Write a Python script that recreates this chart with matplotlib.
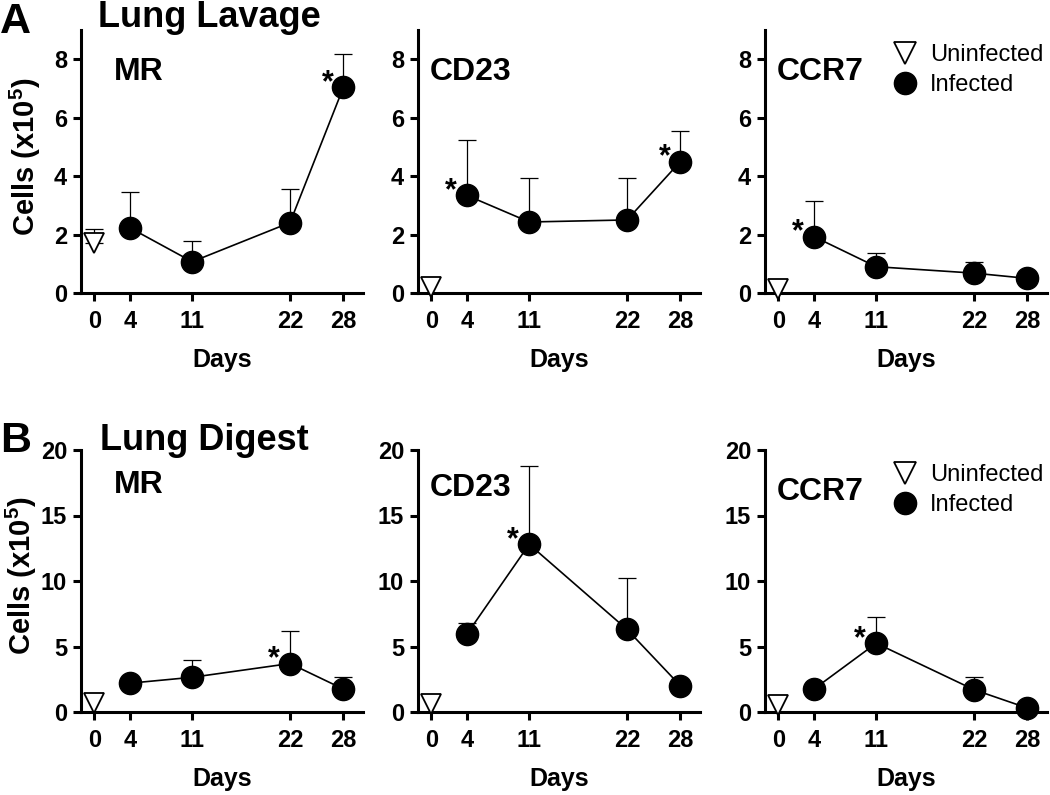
import numpy as np
import matplotlib.pyplot as plt
from matplotlib.lines import Line2D

plt.rcParams['font.family'] = ['Liberation Sans', 'DejaVu Sans']
plt.rcParams['font.weight'] = 'bold'
plt.rcParams['axes.labelweight'] = 'bold'
plt.rcParams['mathtext.fontset'] = 'custom'
plt.rcParams['mathtext.rm'] = 'Liberation Sans'
plt.rcParams['mathtext.bf'] = 'Liberation Sans:bold'

days = [4, 11, 22, 28]
day_ticks = [0, 4, 11, 22, 28]
markers = ['MR', 'CD23', 'CCR7']

# Lung lavage, cells x10^5 (mean, upper SD)
lav_vals = [[2.23, 1.07, 2.41, 7.04],
            [3.34, 2.43, 2.50, 4.50],
            [1.93, 0.90, 0.68, 0.50]]
lav_err = [[1.24, 0.72, 1.16, 1.14],
           [1.88, 1.52, 1.42, 1.04],
           [1.23, 0.48, 0.37, 0.0]]
lav_uninf = [1.7, 0.2, 0.15]
lav_uninf_err = [0.5, 0.0, 0.0]
lav_stars = [[28], [4, 28], [4]]

# Lung digest
dig_vals = [[2.20, 2.65, 3.70, 1.75],
            [5.95, 12.8, 6.30, 2.00],
            [1.75, 5.25, 1.70, 0.30]]
dig_err = [[0.0, 1.35, 2.5, 0.9],
           [0.85, 6.0, 3.9, 0.0],
           [0.0, 2.0, 0.95, 0.0]]
dig_uninf = [0.7, 0.6, 0.5]
dig_uninf_err = [0.0, 0.0, 0.0]
dig_stars = [[22], [11], [11]]

fig = plt.figure(figsize=(10.5, 7.95), dpi=100)
W, H = 1050, 795
col_left = [81, 418, 765]
ax_w = 282


def panel(ax, vals, err, u, uerr, stars, name, ylim, yticks, name_y):
    ax.errorbar(days, vals, yerr=[np.zeros(len(vals)), err], fmt='none',
                ecolor='black', elinewidth=0.9, capsize=6.5, capthick=0.9,
                zorder=2, clip_on=False)
    ax.errorbar([0], [u], yerr=[[0], [uerr]], fmt='none', ecolor='black',
                elinewidth=0.9, capsize=6.5 if uerr > 0 else 0, capthick=0.9,
                zorder=2, clip_on=False)
    ax.plot(days, vals, '-', color='black', lw=1.2, zorder=3)
    ax.plot(days, vals, 'o', ms=16, color='black', zorder=4, clip_on=False)
    ax.plot([0], [u], 'v', ms=14, mfc='white', mec='black', mew=1.3,
            zorder=4, clip_on=False)
    for d in stars:
        i = days.index(d)
        ax.annotate('*', (d, vals[i]), xytext=(-16, -4), textcoords='offset pixels',
                    ha='center', va='baseline', fontsize=22)
    ax.text(0.04 if name != 'MR' else 0.115, name_y, name, transform=ax.transAxes,
            fontsize=23, va='center', ha='left')
    ax.set_xlim(-1.5, 30.2)
    ax.set_ylim(*ylim)
    ax.set_xticks(day_ticks)
    ax.set_yticks(yticks)
    for s in ['top', 'right']:
        ax.spines[s].set_visible(False)
    for s in ['left', 'bottom']:
        ax.spines[s].set_linewidth(2.2)
    ax.tick_params(direction='out', length=6, width=2.2, labelsize=17, pad=4)
    ax.tick_params(axis='x', pad=6)
    for lab in ax.get_xticklabels() + ax.get_yticklabels():
        lab.set_fontweight('bold')
    ax.set_xlabel('Days', fontsize=18, fontweight='bold')
    ax.xaxis.set_label_coords(0.5, -0.21)


rows = [(30, 293, lav_vals, lav_err, lav_uninf, lav_uninf_err, lav_stars, (0, 9), [0, 2, 4, 6, 8]),
        (450, 712, dig_vals, dig_err, dig_uninf, dig_uninf_err, dig_stars, (0, 20), [0, 5, 10, 15, 20])]

for r, (top, bot, vals, err, u, uerr, stars, ylim, yticks) in enumerate(rows):
    for c in range(3):
        ax = fig.add_axes([col_left[c] / W, (H - bot) / H, ax_w / W, (bot - top) / H])
        panel(ax, vals[c], err[c], u[c], uerr[c], stars[c], markers[c], ylim, yticks,
              0.84 if r == 0 else [0.866, 0.855, 0.84][c])
        if c == 0:
            ax.set_ylabel(r'Cells (x10$^{\mathbf{5}}$)', fontsize=21, fontweight='bold')
            ax.yaxis.set_label_coords(-0.135 if r == 0 else -0.15, 0.52)
        if c == 2:
            h1 = Line2D([], [], marker='v', ls='none', ms=16, mfc='white', mec='black', mew=1.3)
            h2 = Line2D([], [], marker='o', ls='none', ms=16, color='black')
            ax.legend([h1, h2], ['Uninfected', 'Infected'], loc='upper left',
                      bbox_to_anchor=(0.46, 0.945), frameon=False,
                      prop={'weight': 'normal', 'size': 17}, handlelength=0.9,
                      handletextpad=0.6, labelspacing=0.32, borderpad=0, borderaxespad=0)

fig.text(0.0, 1 - 33 / H, 'A', fontsize=31, va='baseline', ha='left')
fig.text(98 / W, 1 - 27 / H, 'Lung Lavage', fontsize=26, va='baseline', ha='left')
fig.text(0.0, 1 - 452 / H, 'B', fontsize=31, va='baseline', ha='left')
fig.text(100 / W, 1 - 450 / H, 'Lung Digest', fontsize=26, va='baseline', ha='left')

fig.savefig('out.png', dpi=100)
